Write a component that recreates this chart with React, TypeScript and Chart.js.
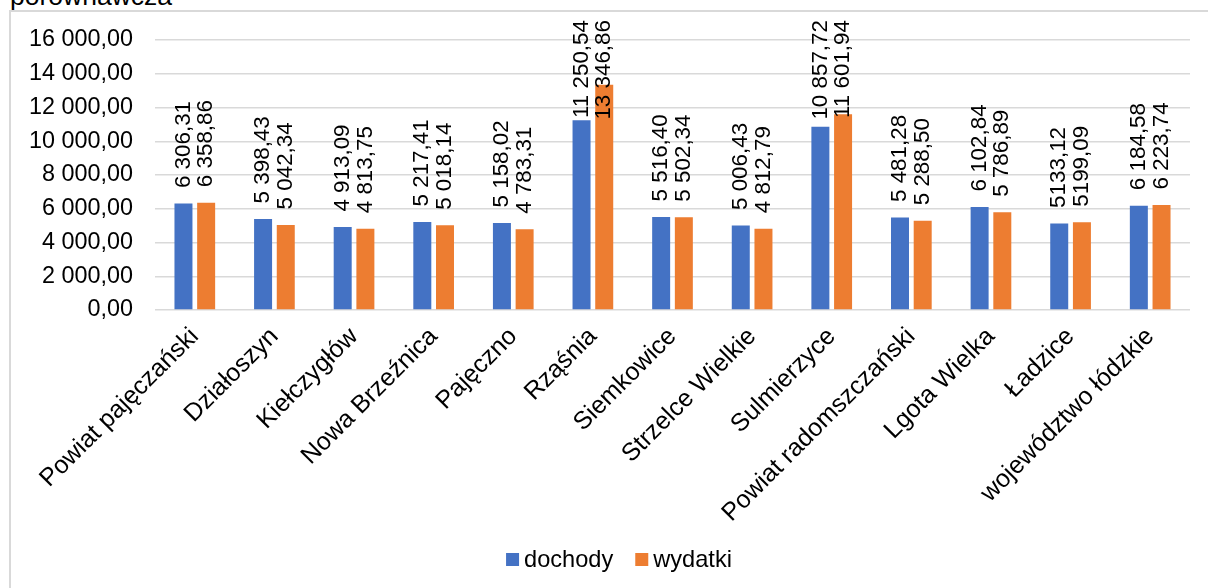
import React, { useEffect, useRef } from "react";
import { Chart, registerables } from "chart.js";

Chart.register(...registerables);

const FONT = "'Liberation Sans', Arial, sans-serif";

const titleText = "porównawcza";
const categories = [
  "Powiat pajęczański",
  "Działoszyn",
  "Kiełczygłów",
  "Nowa Brzeźnica",
  "Pajęczno",
  "Rząśnia",
  "Siemkowice",
  "Strzelce Wielkie",
  "Sulmierzyce",
  "Powiat radomszczański",
  "Lgota Wielka",
  "Ładzice",
  "województwo łódzkie",
];
const seriesNames = ["dochody", "wydatki"];
const dochody = [
  6306.31, 5398.43, 4913.09, 5217.41, 5158.02, 11250.54, 5516.4, 5006.43,
  10857.72, 5481.28, 6102.84, 5133.12, 6184.58,
];
const wydatki = [
  6358.86, 5042.34, 4813.75, 5018.14, 4783.31, 13346.86, 5502.34, 4812.79,
  11601.94, 5288.5, 5786.89, 5199.09, 6223.74,
];
const yMin = 0;
const yMax = 16000;
const yStep = 2000;
// categories whose data labels are written without a thousands separator
const ungroupedCategories = ["Ładzice"];
const seriesColors = ["#4472c4", "#ed7d31"];

function fmt(v: number, group = true): string {
  const [i, d] = v.toFixed(2).split(".");
  const ig = group ? i.replace(/\B(?=(\d{3})+(?!\d))/g, " ") : i;
  return ig + "," + d;
}

const dataLabelPlugin = {
  id: "rotatedDataLabels",
  afterDatasetsDraw(chart: any) {
    const ctx = chart.ctx;
    const top = chart.chartArea.top - 20;
    ctx.save();
    ctx.font = `22.4px ${FONT}`;
    ctx.fillStyle = "#000";
    ctx.textAlign = "left";
    ctx.textBaseline = "middle";
    chart.data.datasets.forEach((ds: any, di: number) => {
      const meta = chart.getDatasetMeta(di);
      meta.data.forEach((bar: any, i: number) => {
        const v = ds.data[i] as number;
        const text = fmt(v, !ungroupedCategories.includes(categories[i]));
        const w = ctx.measureText(text).width;
        let bottom = bar.y - 15.5;
        if (bottom - w < top) bottom = top + w;
        ctx.save();
        ctx.translate(bar.x, bottom);
        ctx.rotate(-Math.PI / 2);
        ctx.fillText(text, 0, 0);
        ctx.restore();
      });
    });
    ctx.restore();
  },
};

const legendPlugin = {
  id: "bottomLegend",
  afterDraw(chart: any) {
    const ctx = chart.ctx;
    ctx.save();
    ctx.font = `23.6px ${FONT}`;
    ctx.textBaseline = "middle";
    ctx.textAlign = "left";
    const box = 13;
    const boxGap = 5;
    const itemGap = 22;
    const widths = chart.data.datasets.map(
      (ds: any) => box + boxGap + ctx.measureText(ds.label).width
    );
    const total =
      widths.reduce((a: number, b: number) => a + b, 0) +
      itemGap * (widths.length - 1);
    let x = 619 - total / 2;
    const cy = 559.5;
    chart.data.datasets.forEach((ds: any, i: number) => {
      ctx.fillStyle = ds.backgroundColor;
      ctx.fillRect(x, cy - box / 2, box, box);
      ctx.fillStyle = "#000";
      ctx.fillText(ds.label, x + box + boxGap, cy + 1);
      x += widths[i] + itemGap;
    });
    ctx.restore();
  },
};

export default function App() {
  const ref = useRef<HTMLCanvasElement | null>(null);

  useEffect(() => {
    if (!ref.current) return;
    Chart.defaults.font.family = FONT;
    const chart = new Chart(ref.current, {
      type: "bar",
      data: {
        labels: categories,
        datasets: [
          {
            label: seriesNames[0],
            data: dochody,
            backgroundColor: seriesColors[0],
            barPercentage: 0.793,
            categoryPercentage: 0.57,
          },
          {
            label: seriesNames[1],
            data: wydatki,
            backgroundColor: seriesColors[1],
            barPercentage: 0.793,
            categoryPercentage: 0.57,
          },
        ],
      },
      options: {
        responsive: false,
        animation: false,
        layout: { padding: { top: 40, left: 0, right: 18, bottom: 0 } },
        plugins: {
          legend: { display: false },
          tooltip: { enabled: false },
          title: { display: false },
        },
        scales: {
          x: {
            grid: { display: false, drawTicks: false },
            border: { display: false },
            ticks: {
              autoSkip: false,
              maxRotation: 45,
              minRotation: 45,
              color: "#000",
              font: { family: FONT, size: 25 },
              padding: 12,
            },
            afterFit(s: any) {
              s.height = 278;
            },
          },
          y: {
            min: yMin,
            max: yMax,
            ticks: {
              stepSize: yStep,
              color: "#000",
              font: { family: FONT, size: 23.4 },
              padding: 22,
              callback: (v: any) => fmt(Number(v)),
            },
            grid: { color: "#d9d9d9", lineWidth: 1.5, drawTicks: false },
            border: { display: false },
            afterFit(s: any) {
              s.width = 155;
            },
          },
        },
      },
      plugins: [dataLabelPlugin, legendPlugin],
    } as any);
    return () => chart.destroy();
  }, []);

  return (
    <div
      style={{
        position: "absolute",
        left: 0,
        top: 0,
        width: 1208,
        height: 588,
        overflow: "hidden",
        background: "#fff",
      }}
    >
      <div
        style={{
          position: "absolute",
          left: 10,
          top: -17,
          font: `26.5px ${FONT}`,
          lineHeight: "26.5px",
          color: "#000",
          whiteSpace: "nowrap",
        }}
      >
        {titleText}
      </div>
      <div
        style={{
          position: "absolute",
          left: 9,
          top: 10,
          width: 1300,
          height: 700,
          borderLeft: "2px solid #d9d9d9",
          borderTop: "2px solid #d9d9d9",
        }}
      />
      <canvas
        ref={ref}
        width={1208}
        height={588}
        style={{ position: "absolute", left: 0, top: 0, width: 1208, height: 588 }}
      />
    </div>
  );
}
